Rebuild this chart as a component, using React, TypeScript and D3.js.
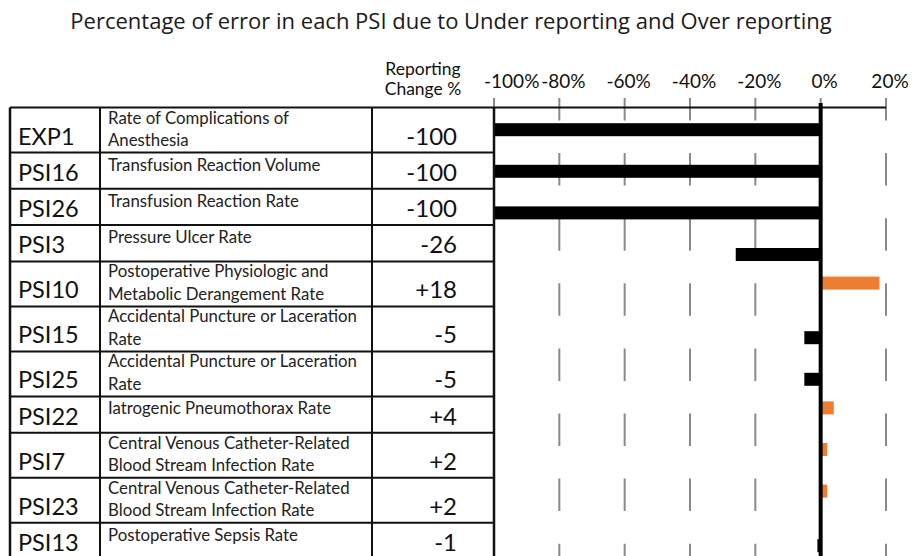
import * as d3 from "d3";

const codes = ["EXP1", "PSI16", "PSI26", "PSI3", "PSI10", "PSI15", "PSI25", "PSI22", "PSI7", "PSI23", "PSI13"];
const descriptions = [
  ["Rate of Complications of", "Anesthesia"],
  ["Transfusion Reaction Volume"],
  ["Transfusion Reaction Rate"],
  ["Pressure Ulcer Rate"],
  ["Postoperative Physiologic and", "Metabolic Derangement Rate"],
  ["Accidental Puncture or Laceration", "Rate"],
  ["Accidental Puncture or Laceration", "Rate"],
  ["Iatrogenic Pneumothorax Rate"],
  ["Central Venous Catheter-Related", "Blood Stream Infection Rate"],
  ["Central Venous Catheter-Related", "Blood Stream Infection Rate"],
  ["Postoperative Sepsis Rate"],
];
const changes = [-100, -100, -100, -26, 18, -5, -5, 4, 2, 2, -1];
const xTicks = [-100, -80, -60, -40, -20, 0, 20];
const series = ["over", "under"];

const width = 916;
const height = 556;
const font = "Lato, 'Open Sans', sans-serif";

export default function App() {
  const x = d3.scaleLinear().domain([-100, 20]).range([494, 886]);
  const y = d3
    .scaleBand<string>()
    .domain(codes)
    .range([102.4, 560])
    .paddingInner(0.375)
    .paddingOuter(0.1875);
  const ySub = d3.scaleBand<string>().domain(series).range([0, y.bandwidth()]);

  // table rows: height follows the number of description lines
  const tableTop = 107.5;
  const rowH = (n: number) => (n > 1 ? 45 : 36.3);
  let acc = tableTop;
  const rows = codes.map((c, i) => {
    const top = acc;
    acc += rowH(descriptions[i].length);
    return { code: c, top, bottom: acc, desc: descriptions[i], value: changes[i] };
  });

  const colX = [10, 100, 372, 494];
  const fmt = (v: number) => (v > 0 ? `+${v}` : `${v}`);

  return (
    <svg
      width={width}
      height={height}
      style={{ position: "absolute", left: 0, top: 0, background: "#fff" }}
    >
      <text
        x={451}
        y={29}
        textAnchor="middle"
        fontFamily="'Open Sans', sans-serif"
        fontSize={22}
        fill="#1a1a1a"
      >
        Percentage of error in each PSI due to Under reporting and Over reporting
      </text>

      {/* header */}
      <text x={423} y={75} textAnchor="middle" fontFamily={font} fontSize={17.5} fill="#111">
        Reporting
      </text>
      <text x={423} y={95} textAnchor="middle" fontFamily={font} fontSize={17.5} fill="#111">
        Change %
      </text>

      {/* x tick labels */}
      {xTicks.map((t, i) => (
        <text
          key={t}
          x={i === 0 ? x(t) - 10 : x(t) + 4}
          y={88}
          textAnchor={i === 0 ? "start" : "middle"}
          fontFamily={font}
          fontSize={19}
          fill="#111"
        >
          {t}%
        </text>
      ))}

      {/* dashed grid */}
      {xTicks.map((t) => (
        <line
          key={"g" + t}
          x1={x(t)}
          x2={x(t)}
          y1={98}
          y2={height}
          stroke="#8a8a8a"
          strokeWidth={2}
          strokeDasharray="32.5 32.6"
          strokeDashoffset={10}
        />
      ))}

      {/* bars */}
      {codes.map((c, i) => {
        const v = changes[i];
        const key = v >= 0 ? "over" : "under";
        return (
          <rect
            key={"b" + c}
            x={x(Math.min(0, v))}
            y={(y(c) ?? 0) + (ySub(key) ?? 0)}
            width={Math.abs(x(v) - x(0))}
            height={ySub.bandwidth()}
            fill={v >= 0 ? "#ED7D31" : "#000"}
          />
        );
      })}

      {/* axis line and zero line */}
      <line x1={colX[0]} x2={x(20)} y1={tableTop} y2={tableTop} stroke="#111" strokeWidth={2} />
      <line x1={x(0)} x2={x(0)} y1={103} y2={height} stroke="#000" strokeWidth={4} />

      {/* table */}
      {rows.map((r) => (
        <g key={"r" + r.code}>
          <line x1={colX[0]} x2={colX[3]} y1={r.bottom} y2={r.bottom} stroke="#111" strokeWidth={2} />
          <text x={18} y={r.bottom - 8} fontFamily={font} fontSize={23.5} fill="#111">
            {r.code}
          </text>
          {r.desc.map((l, j) => (
            <text
              key={j}
              x={108}
              y={r.top + (r.desc.length > 1 ? 16 + j * 22.5 : 18)}
              fontFamily={font}
              fontSize={16.8}
              fill="#222"
            >
              {l}
            </text>
          ))}
          <text x={457} y={r.bottom - 8} textAnchor="end" fontFamily={font} fontSize={24} fill="#111">
            {fmt(r.value)}
          </text>
        </g>
      ))}
      {colX.map((cx, i) => (
        <line
          key={"c" + i}
          x1={cx}
          x2={cx}
          y1={tableTop}
          y2={height}
          stroke="#111"
          strokeWidth={i === 0 || i === 3 ? 2.5 : 2}
        />
      ))}
    </svg>
  );
}
